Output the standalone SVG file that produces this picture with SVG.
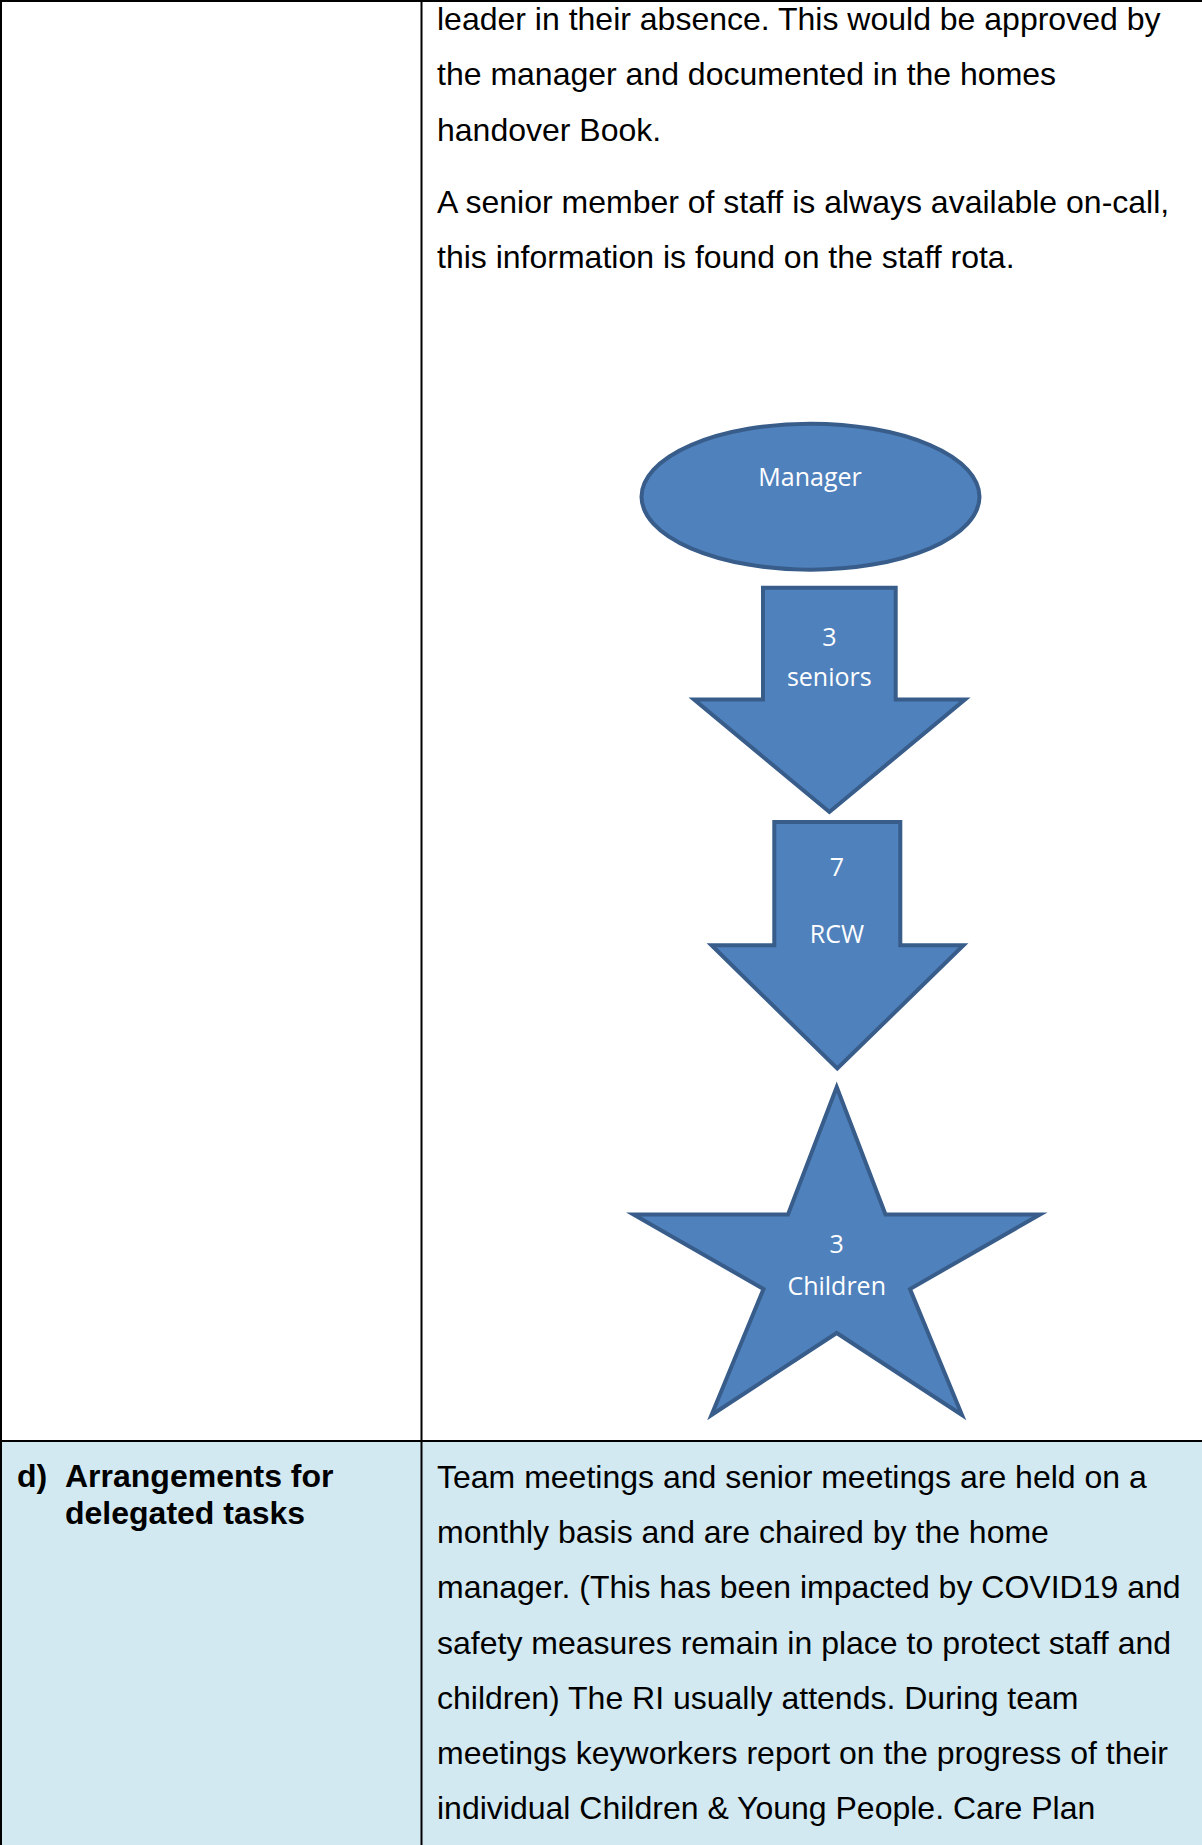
<svg xmlns="http://www.w3.org/2000/svg" width="1202" height="1845" viewBox="0 0 1202 1845">
<style>
.body{font-family:"Liberation Sans",Arial,sans-serif;font-size:32px;fill:#000}
.bold{font-weight:bold}
.shape{fill:#4F81BD;stroke:#385D8A;stroke-width:4;stroke-linejoin:miter;stroke-miterlimit:10}
.lbl{font-family:"Open Sans","Noto Sans",sans-serif;font-size:25px;fill:#fff;text-anchor:middle}
.rule{stroke:#000;stroke-width:2;fill:none}
</style>
<rect x="0" y="0" width="1202" height="1845" fill="#fff"/>
<g id="table">
<rect x="0" y="1441" width="1202" height="404" fill="#D3E9F1"/>
<line class="rule" x1="0" y1="1" x2="1202" y2="1"/>
<line class="rule" x1="1" y1="0" x2="1" y2="1845"/>
<line class="rule" x1="421.5" y1="0" x2="421.5" y2="1845"/>
<line class="rule" x1="0" y1="1441" x2="1202" y2="1441"/>
</g>
<g id="top-text" class="body">
<text x="437" y="30">leader in their absence. This would be approved by</text>
<text x="437" y="85">the manager and documented in the homes</text>
<text x="437" y="140.5">handover Book.</text>
<text x="437" y="213">A senior member of staff is always available on-call,</text>
<text x="437" y="268">this information is found on the staff rota.</text>
</g>
<g id="bottom-left" class="body bold">
<text x="17" y="1487">d)</text>
<text x="65" y="1487">Arrangements for</text>
<text x="65" y="1524">delegated tasks</text>
</g>
<g id="bottom-right" class="body">
<text x="437" y="1488">Team meetings and senior meetings are held on a</text>
<text x="437" y="1543.2">monthly basis and are chaired by the home</text>
<text x="437" y="1598.4">manager. (This has been impacted by COVID19 and</text>
<text x="437" y="1653.6">safety measures remain in place to protect staff and</text>
<text x="437" y="1708.8">children) The RI usually attends. During team</text>
<text x="437" y="1764">meetings keyworkers report on the progress of their</text>
<text x="437" y="1819.2">individual Children &amp; Young People. Care Plan</text>
</g>
<g id="connectors"/>
<g id="manager">
<ellipse class="shape" cx="810.5" cy="496.7" rx="169" ry="73"/>
<text class="lbl" x="810" y="486">Manager</text>
</g>
<g id="seniors">
<path class="shape" d="M763,587.7 L895.7,587.7 L895.7,699.5 L965,699.5 L829.4,812 L694,699.5 L763,699.5 Z"/>
<text class="lbl" x="829.3" y="645.7">3</text>
<text class="lbl" x="829.3" y="686">seniors</text>
</g>
<g id="rcw">
<path class="shape" d="M774.3,822 L900.3,822 L900.3,945.3 L963.5,945.3 L837.3,1068.5 L711.5,945.3 L774.3,945.3 Z"/>
<text class="lbl" x="837" y="876">7</text>
<text class="lbl" x="837" y="943.3">RCW</text>
</g>
<g id="children">
<path class="shape" d="M836.7,1087 L885.5,1214.5 L1040,1214.5 L910,1289 L962,1415 L836.7,1333 L711.5,1415 L763.5,1289 L633.5,1214.5 L788,1214.5 Z"/>
<text class="lbl" x="836.7" y="1253.3">3</text>
<text class="lbl" x="836.7" y="1295">Children</text>
</g>
</svg>
